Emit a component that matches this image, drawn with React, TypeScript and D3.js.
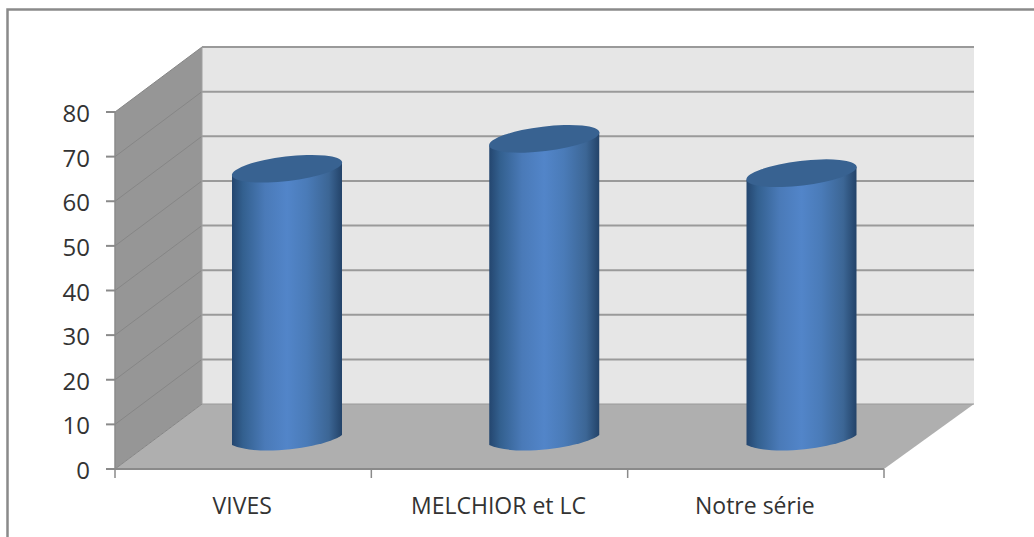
import React from "react";
import * as d3 from "d3";

const categories = ["VIVES", "MELCHIOR et LC", "Notre série"];
const seriesValues = [60, 66.7, 59];
const yTicks = [0, 10, 20, 30, 40, 50, 60, 70, 80];

const WIDTH = 1034;
const HEIGHT = 537;
const FONT = "'Open Sans', 'Noto Sans', sans-serif";

// Oblique projection of the 3D plot box: front plane plus a depth offset.
const front = { left: 115, right: 884, bottom: 469, top: 112 };
const depth = { dx: 87, dy: -65 };
const backRight = 974;

const x = d3.scaleBand<string>().domain(categories).range([front.left, front.right]);
const y = d3.scaleLinear().domain([0, 80]).range([front.bottom, front.top]);
// Cylinders stand at mid depth of the floor.
const cylinderX = d3.scalePoint<string>().domain(categories).range([287, 801.5]);

const CYL_W = 110;
const CAP_RY = 12.3;
const TILT = 6.8;

function Cylinder({ cat, value }: { cat: string; value: number }) {
  const cx = cylinderX(cat) as number;
  const baseY = y(0) + depth.dy / 2;
  const topY = y(value) + depth.dy / 2;
  const rx = CYL_W / 2;
  const slope = Math.tan((TILT * Math.PI) / 180) * rx;
  const bodyPath = d3.path();
  bodyPath.moveTo(cx - rx, topY + slope);
  bodyPath.lineTo(cx + rx, topY - slope);
  bodyPath.lineTo(cx + rx, baseY - 1.5);
  bodyPath.bezierCurveTo(cx + rx - 14, baseY + 10, cx - rx + 28, baseY + 21, cx - rx, baseY + 8.5);
  bodyPath.closePath();
  return (
    <g>
      <path d={bodyPath.toString()} fill="url(#cylBody)" />
      <ellipse
        cx={cx}
        cy={topY}
        rx={rx + 0.5}
        ry={CAP_RY}
        transform={`rotate(${-TILT} ${cx} ${topY})`}
        fill="#386291"
      />
    </g>
  );
}

export default function App() {
  const bx = front.left + depth.dx;
  return (
    <svg
      width={WIDTH}
      height={HEIGHT}
      style={{ position: "absolute", left: 0, top: 0, background: "#fff" }}
      fontFamily={FONT}
    >
      <defs>
        <linearGradient id="cylBody" x1="0" x2="1" y1="0" y2="0">
          <stop offset="0" stopColor="#24466f" />
          <stop offset="0.1" stopColor="#33608f" />
          <stop offset="0.3" stopColor="#4a7ab8" />
          <stop offset="0.5" stopColor="#5285c9" />
          <stop offset="0.68" stopColor="#4a7bb8" />
          <stop offset="0.88" stopColor="#3c6695" />
          <stop offset="1" stopColor="#234369" />
        </linearGradient>
      </defs>

      {/* outer chart frame */}
      <path d={`M7.5 ${HEIGHT} V9.5 H${WIDTH}`} fill="none" stroke="#8a8a8a" strokeWidth={2.5} />

      {/* back wall */}
      <rect x={bx} y={y(80) + depth.dy} width={backRight - bx} height={y(0) - y(80)} fill="#e6e6e6" />
      {/* side wall */}
      <polygon
        points={[
          [front.left, y(0)],
          [bx, y(0) + depth.dy],
          [bx, y(80) + depth.dy],
          [front.left, y(80)],
        ].join(" ")}
        fill="#969696"
      />
      {/* floor */}
      <polygon
        points={[
          [front.left, y(0)],
          [bx, y(0) + depth.dy],
          [backRight, y(0) + depth.dy],
          [front.right, y(0)],
        ].join(" ")}
        fill="#afafaf"
      />

      {/* gridlines on both walls */}
      {yTicks.map((t) => (
        <g key={t}>
          {t > 0 && (
            <line x1={bx} x2={backRight} y1={y(t) + depth.dy} y2={y(t) + depth.dy} stroke="#9a9a9a" strokeWidth={2} />
          )}
          <line x1={front.left} x2={bx} y1={y(t)} y2={y(t) + depth.dy} stroke="#868686" strokeWidth={1} />
        </g>
      ))}
      <line x1={bx} x2={bx} y1={y(80) + depth.dy} y2={y(0) + depth.dy} stroke="#a0a0a0" strokeWidth={1} />
      <line x1={bx} x2={backRight} y1={y(0) + depth.dy} y2={y(0) + depth.dy} stroke="#9a9a9a" strokeWidth={1} />

      {/* axes */}
      <line x1={front.left} x2={front.left} y1={y(80)} y2={y(0)} stroke="#8a8a8a" strokeWidth={1.5} />
      <line x1={front.left - 9} x2={front.right} y1={y(0)} y2={y(0)} stroke="#8a8a8a" strokeWidth={2} />
      {yTicks.map((t) => (
        <g key={t}>
          <line x1={front.left - 9} x2={front.left} y1={y(t)} y2={y(t)} stroke="#8a8a8a" strokeWidth={2} />
          <text x={90} y={y(t) + 10} textAnchor="end" fontSize={24} fill="#333">
            {t}
          </text>
        </g>
      ))}
      {[...categories.map((c) => x(c) as number), front.right].map((tx) => (
        <line key={tx} x1={tx} x2={tx} y1={y(0)} y2={y(0) + 9} stroke="#8a8a8a" strokeWidth={1.5} />
      ))}

      {categories.map((c, i) => (
        <Cylinder key={c} cat={c} value={seriesValues[i]} />
      ))}

      {categories.map((c) => (
        <text
          key={c}
          x={(x(c) as number) + x.bandwidth() / 2 - 1}
          y={514}
          textAnchor="middle"
          fontSize={23}
          fill="#333"
        >
          {c}
        </text>
      ))}
    </svg>
  );
}
